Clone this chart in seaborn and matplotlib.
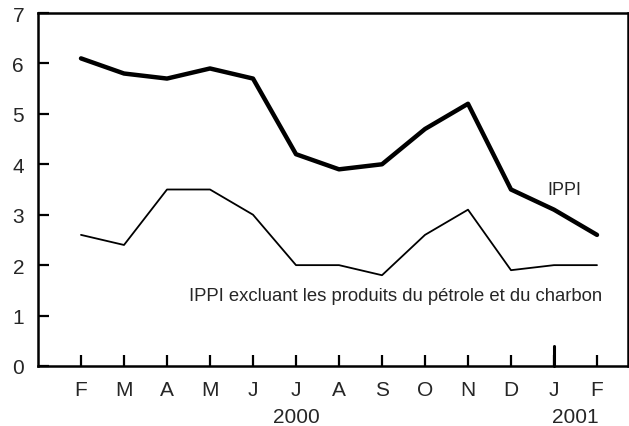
import numpy as np
import pandas as pd
import matplotlib
matplotlib.use("Agg")
import matplotlib.pyplot as plt
import seaborn as sns

months = ["F", "M", "A", "M", "J", "J", "A", "S", "O", "N", "D", "J", "F"]
ippi = [6.1, 5.8, 5.7, 5.9, 5.7, 4.2, 3.9, 4.0, 4.7, 5.2, 3.5, 3.1, 2.6]
ippi_excl = [2.6, 2.4, 3.5, 3.5, 3.0, 2.0, 2.0, 1.8, 2.6, 3.1, 1.9, 2.0, 2.0]

df = pd.DataFrame({"pos": np.arange(1, len(months) + 1), "IPPI": ippi, "excl": ippi_excl})

sns.set_style("white")
plt.rcParams["font.family"] = ["Liberation Sans", "DejaVu Sans"]

fig = plt.figure(figsize=(6.29, 4.27), dpi=100)
ax = fig.add_axes([38/629, 60/427, 590/629, 353/427])

sns.lineplot(data=df, x="pos", y="IPPI", color="black", linewidth=3.2, ax=ax)
sns.lineplot(data=df, x="pos", y="excl", color="black", linewidth=1.3, ax=ax)

ax.set_xlim(0, 590/43)
ax.set_ylim(0, 7)
ax.set_xticks(df["pos"])
ax.set_xticklabels(months, fontsize=15)
ax.set_yticks(range(0, 8))
ax.set_yticklabels([str(i) for i in range(8)], fontsize=15)
ax.set_xlabel("")
ax.set_ylabel("")
ax.tick_params(axis="both", direction="in", length=8, width=1.6, color="black",
               bottom=True, left=True, top=False, right=False)
ax.tick_params(axis="y", pad=10)
ax.tick_params(axis="x", pad=10)
for s in ax.spines.values():
    s.set_linewidth(1.8)
    s.set_color("black")

# longer tick at the year change
ax.plot([12, 12], [0, 0.4], color="black", linewidth=2.2, clip_on=False)

ax.text(6, -1.0, "2000", ha="center", va="center", fontsize=15, clip_on=False)
ax.text(12.5, -1.0, "2001", ha="center", va="center", fontsize=15, clip_on=False)
ax.text(12.25, 3.5, "IPPI", ha="center", va="center", fontsize=13)
ax.text(8.31, 1.39, "IPPI excluant les produits du pétrole et du charbon",
        ha="center", va="center", fontsize=13.3)

fig.savefig("out.png", dpi=100)
